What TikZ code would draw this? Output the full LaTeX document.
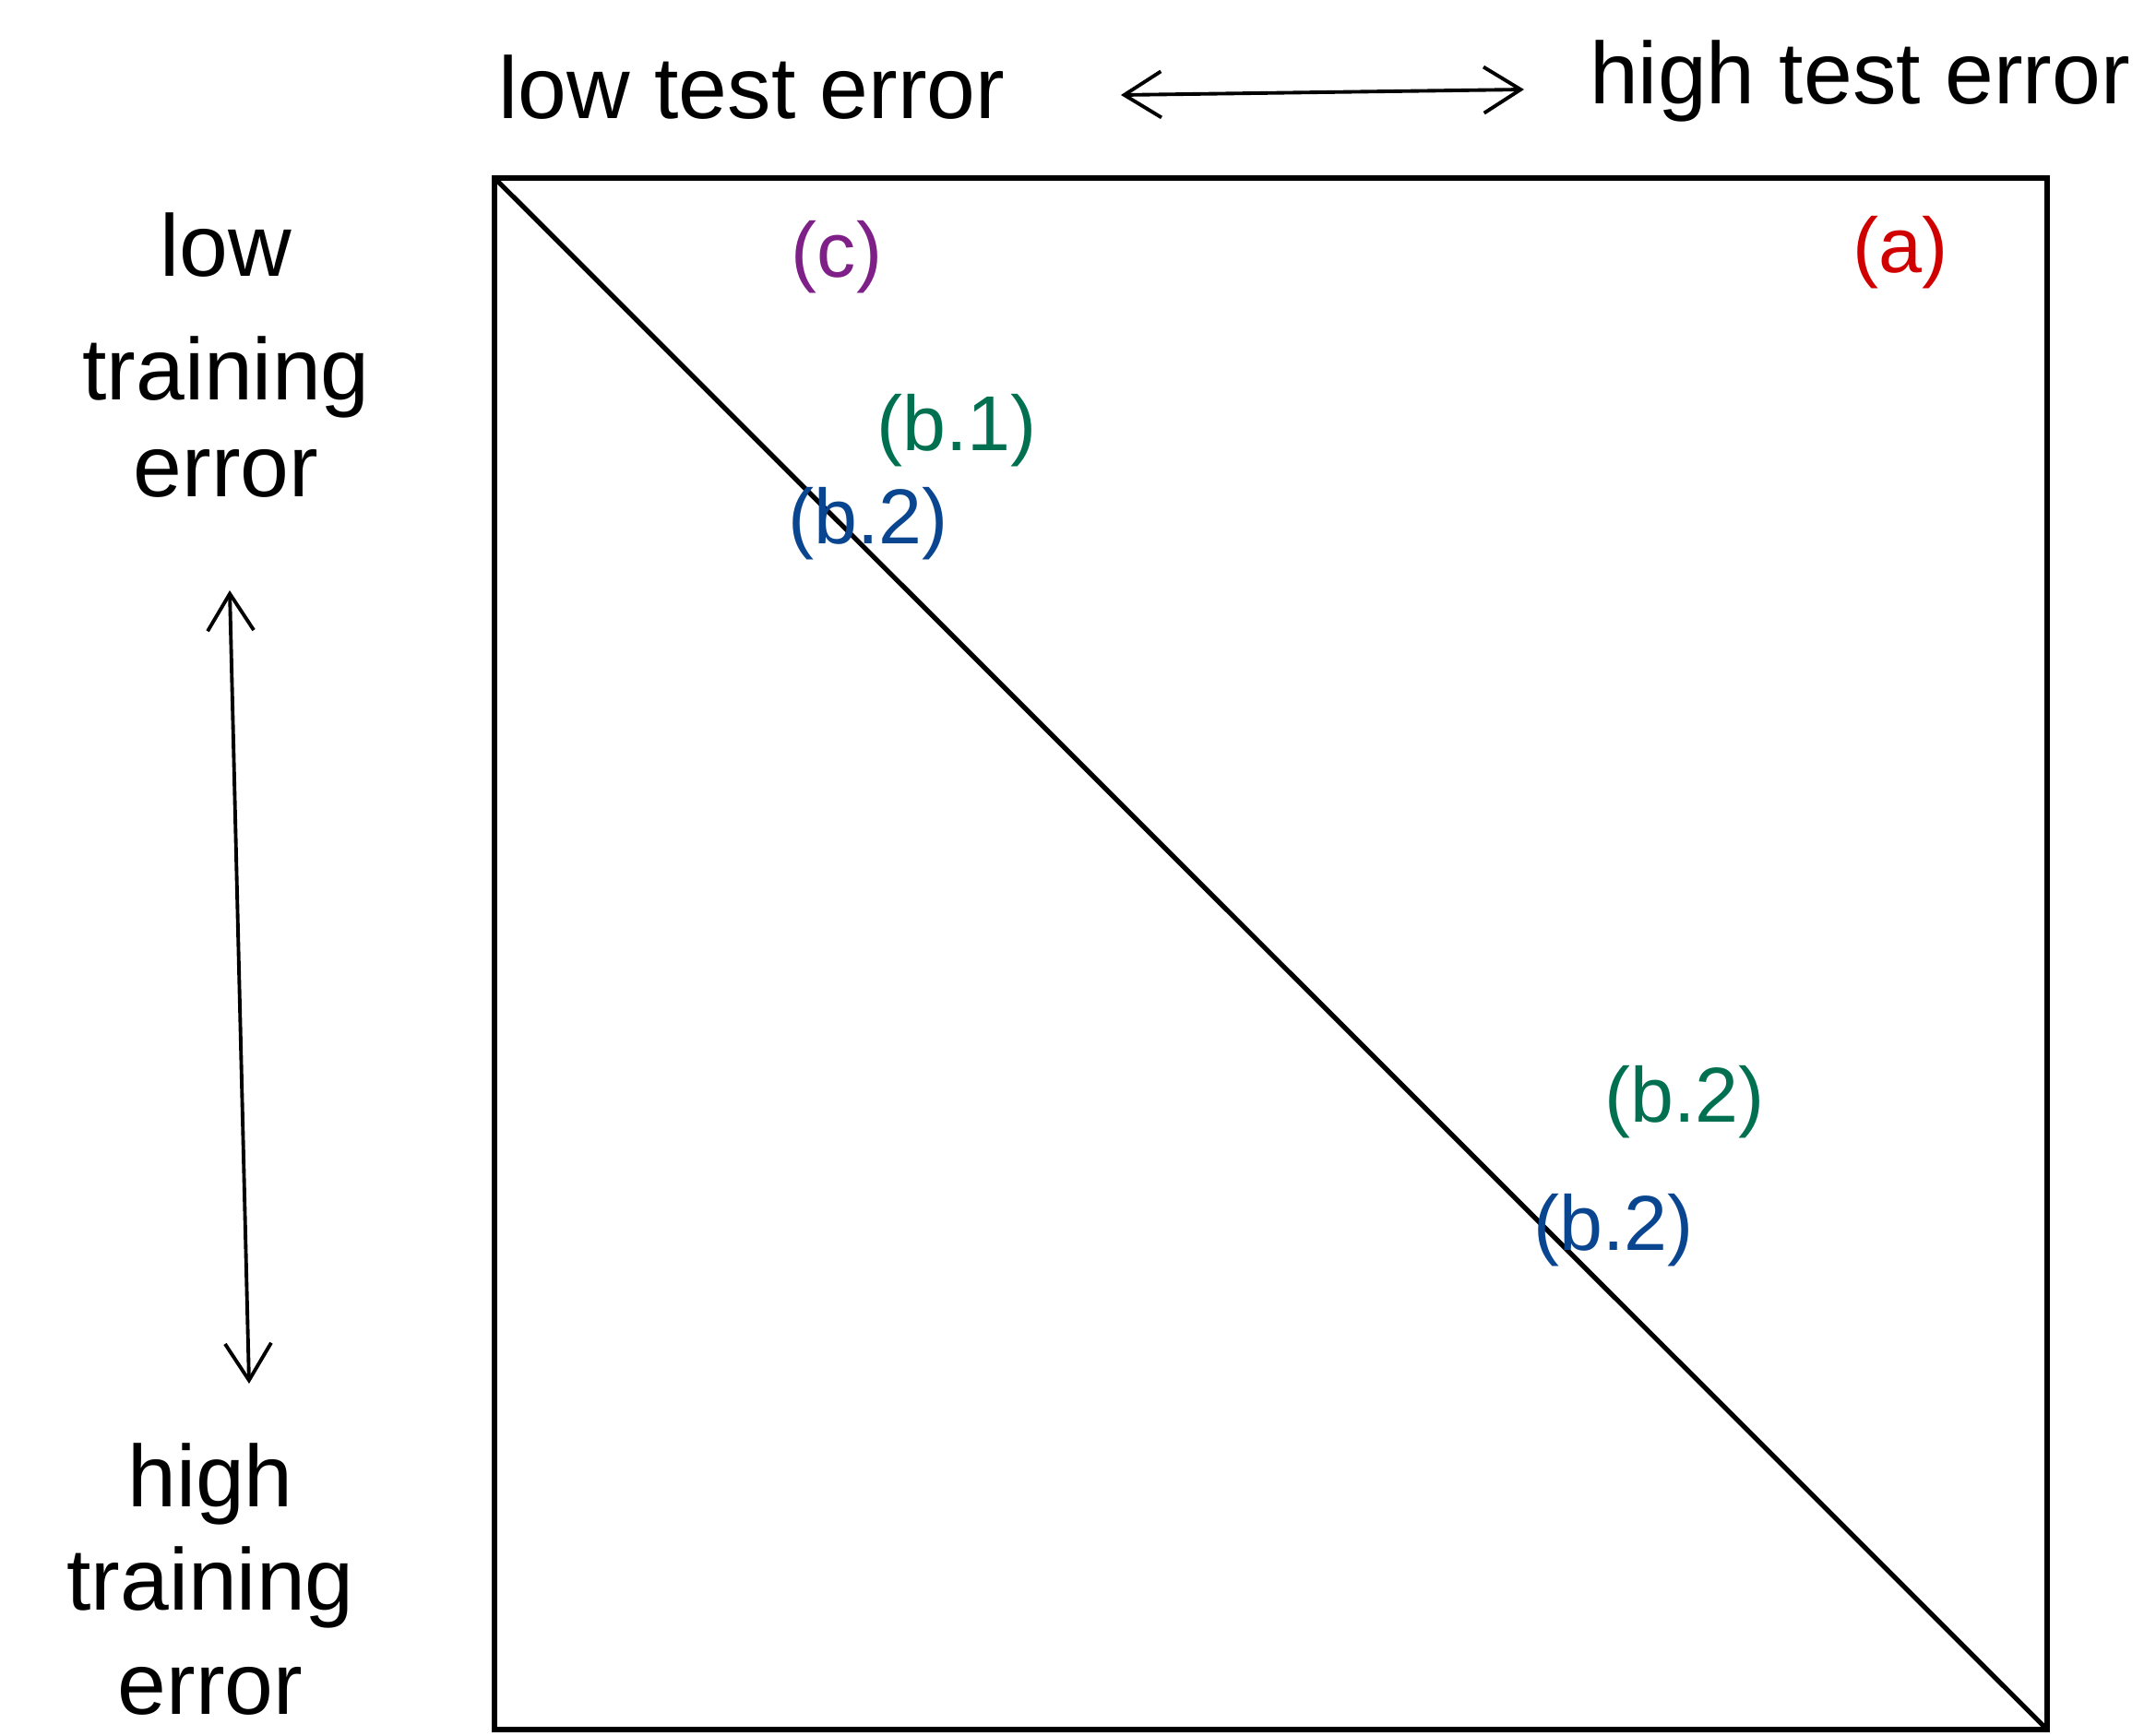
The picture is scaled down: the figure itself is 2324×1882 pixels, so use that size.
\documentclass[tikz,border=0pt]{standalone}
\usepackage{fontspec}
\setmainfont{Liberation Sans}
\usepackage{xcolor}
\usetikzlibrary{positioning,arrows.meta}
\definecolor{lblpurple}{HTML}{7F1F88}
\definecolor{lblred}{HTML}{D00000}
\definecolor{lblgreen}{HTML}{007050}
\definecolor{lblblue}{HTML}{0A4590}

\begin{document}
\begin{tikzpicture}[x=0.01cm, y=-0.01cm,
  hand/.style={font=\fontsize{27}{32}\selectfont, inner sep=0pt, align=center},
  tag/.style={font=\fontsize{24}{28}\selectfont, inner sep=0pt},
  arr/.style={{Straight Barb[length=4mm, width=5mm]}-{Straight Barb[length=4mm, width=5mm]}, line width=1.1pt},
  frame/.style={draw, line width=1.5pt}
]
\useasboundingbox (0,0) rectangle (2324,1882);
% the square and its diagonal
\coordinate (tl) at (536,193);
\coordinate (br) at (2219,1875);
\draw[frame] (tl) rectangle (br);
\draw[frame] (tl) -- (br);
% axis texts
\node[hand] (lowtest) at (815,95) {low test error};
\node[hand] (hightest) at (2016,88) {high test error};
\node[hand] (lowtrain) at (245,385) {low\\[6pt]training\\[-2pt]error};
\node[hand] (hightrain) at (228,1712) {high\\training\\error};
\coordinate (testl) at (1215,103);
\coordinate (testr) at (1652,97);
\draw[arr] (testl) -- (testr);
\coordinate (traint) at (249,640);
\coordinate (trainb) at (270,1500);
\draw[arr] (traint) -- (trainb);
% region tags
\node[tag, text=lblpurple] (tagc) at (907,279) {(c)};
\node[tag, text=lblred] (taga) at (2060,274) {(a)};
\node[tag, text=lblgreen] (tagbone) at (1037,467) {(b.1)};
\node[tag, text=lblblue] (tagbtwo) at (941,568) {(b.2)};
\node[tag, text=lblgreen] (tagbtwoup) at (1826,1195) {(b.2)};
\node[tag, text=lblblue] (tagbtwolow) at (1749,1334) {(b.2)};
\end{tikzpicture}
\end{document}
